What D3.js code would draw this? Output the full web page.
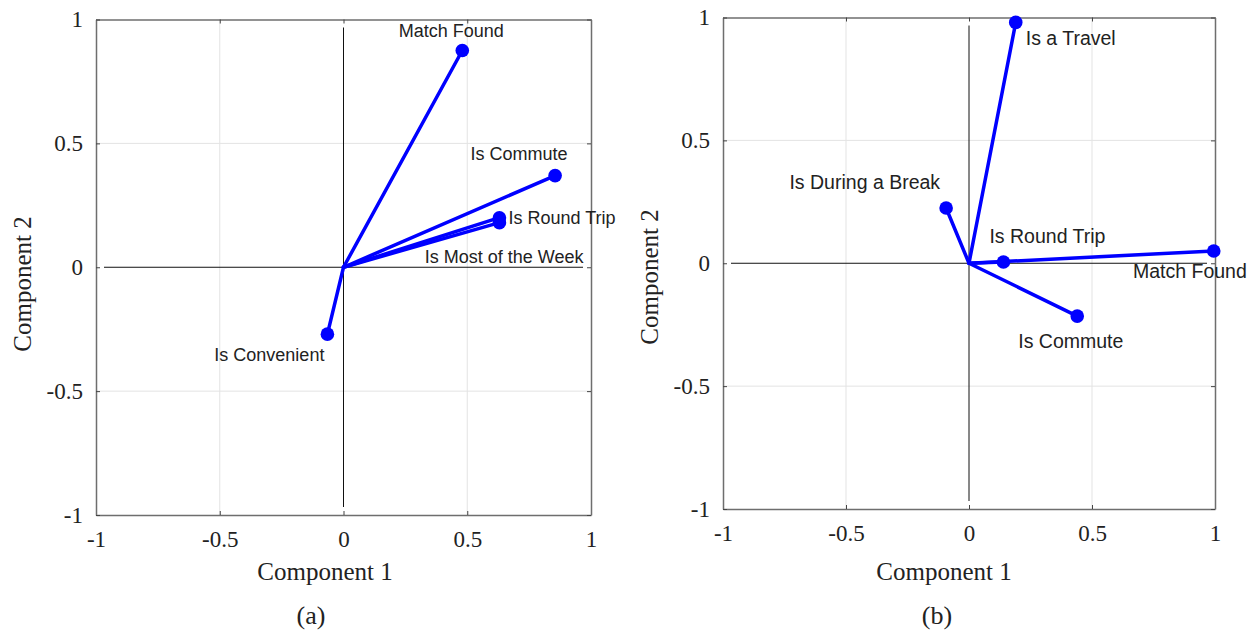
<!DOCTYPE html>
<html>
<head>
<meta charset="utf-8">
<script src="https://cdnjs.cloudflare.com/ajax/libs/d3/7.8.5/d3.min.js"></script>
<style>
	body { margin: 0; background: #fff; }
	.tick text { font-family: "Liberation Serif", "Times New Roman", serif; }
</style>
</head>
<body>
<div id="canvas"></div>
<script>
// panel (a)
var namesA = ["Match Found", "Is Commute", "Is Round Trip", "Is Most of the Week", "Is Convenient"];
var comp1A = [0.48, 0.855, 0.63, 0.63, -0.065];
var comp2A = [0.875, 0.37, 0.20, 0.18, -0.27];

// panel (b)
var namesB = ["Is a Travel", "Is During a Break", "Is Round Trip", "Match Found", "Is Commute"];
var comp1B = [0.19, -0.093, 0.14, 0.995, 0.44];
var comp2B = [0.98, 0.225, 0.005, 0.05, -0.215];

var tickValues = [-1, -0.5, 0, 0.5, 1];
var tickLabels = ["-1", "-0.5", "0", "0.5", "1"];

var W = 1249, H = 633;

var svg = d3.select("#canvas")
	.append("svg")
	.attr("width", W)
	.attr("height", H);

// label offsets relative to each point (pixels), [dx, dy, anchor]
var labelPosA = [[-11, -20, "middle"], [-36, -22, "middle"], [9, 0, "start"], [84, 34, "end"], [-3, 21, "end"]];
var labelPosB = [[10, 16, "start"], [-6, -26, "end"], [-14, -26, "start"], [33, 20, "end"], [-59, 25, "start"]];

drawPanel({left: 96, right: 591, top: 19.5, bottom: 515, yTitleY: 284, xTitleX: 325, capX: 311, cap: "(a)", lblSize: 18},
	namesA, comp1A, comp2A, labelPosA);
drawPanel({left: 723, right: 1215, top: 17.5, bottom: 509, yTitleY: 277, xTitleX: 944, capX: 937, cap: "(b)", lblSize: 19.5},
	namesB, comp1B, comp2B, labelPosB);

function drawPanel(p, names, xs, ys, labelPos){
	var g = svg.append("g");

	var x = d3.scaleLinear().domain([-1, 1]).range([p.left, p.right]);
	var y = d3.scaleLinear().domain([-1, 1]).range([p.bottom, p.top]);

	// grid
	g.selectAll(".gx")
		.data([-0.5, 0.5])
		.enter()
		.append("line")
		.attr("x1", function(d){ return x(d); })
		.attr("x2", function(d){ return x(d); })
		.attr("y1", p.top)
		.attr("y2", p.bottom)
		.attr("stroke", "#e3e3e3")
		.attr("stroke-width", 1);
	g.selectAll(".gy")
		.data([-0.5, 0.5])
		.enter()
		.append("line")
		.attr("y1", function(d){ return y(d); })
		.attr("y2", function(d){ return y(d); })
		.attr("x1", p.left)
		.attr("x2", p.right)
		.attr("stroke", "#e3e3e3")
		.attr("stroke-width", 1);

	// zero lines
	g.append("line")
		.attr("x1", x(0)).attr("x2", x(0))
		.attr("y1", p.top + 8).attr("y2", p.bottom - 8)
		.attr("stroke", "#111").attr("stroke-width", 1);
	g.append("line")
		.attr("x1", p.left + 8).attr("x2", p.right - 8)
		.attr("y1", y(0)).attr("y2", y(0))
		.attr("stroke", "#111").attr("stroke-width", 1);

	// axes
	var fmt = function(d){ return tickLabels[tickValues.indexOf(d)]; };
	var axes = [
		[d3.axisBottom(x), "translate(0," + p.bottom + ")"],
		[d3.axisTop(x).tickFormat(""), "translate(0," + p.top + ")"],
		[d3.axisLeft(y), "translate(" + p.left + ",0)"],
		[d3.axisRight(y).tickFormat(""), "translate(" + p.right + ",0)"]
	];
	axes.forEach(function(a, i){
		var ax = a[0].tickValues(tickValues).tickSizeInner(-4).tickSizeOuter(0).tickPadding(i === 0 ? 16 : 13);
		if(i === 0 || i === 2) ax.tickFormat(fmt);
		var ag = g.append("g")
			.attr("transform", a[1])
			.call(ax);
		ag.select(".domain").attr("stroke", "#6e6e6e").attr("stroke-width", 1.5);
		ag.selectAll(".tick line").attr("stroke", "#444");
		ag.selectAll(".tick text")
			.attr("font-size", 23)
			.attr("fill", "#222");
	});

	// vectors
	var idx = d3.range(names.length);
	g.selectAll(".vec")
		.data(idx)
		.enter()
		.append("line")
		.attr("x1", x(0))
		.attr("y1", y(0))
		.attr("x2", function(i){ return x(xs[i]); })
		.attr("y2", function(i){ return y(ys[i]); })
		.attr("stroke", "#0000ff")
		.attr("stroke-width", 3.5)
		.attr("stroke-linecap", "round");
	g.selectAll(".pt")
		.data(idx)
		.enter()
		.append("circle")
		.attr("cx", function(i){ return x(xs[i]); })
		.attr("cy", function(i){ return y(ys[i]); })
		.attr("r", 6.8)
		.attr("fill", "#0000ff");

	g.selectAll(".lbl")
		.data(idx)
		.enter()
		.append("text")
		.attr("x", function(i){ return x(xs[i]) + labelPos[i][0]; })
		.attr("y", function(i){ return y(ys[i]) + labelPos[i][1]; })
		.attr("dy", "0.35em")
		.attr("text-anchor", function(i){ return labelPos[i][2]; })
		.attr("font-family", "'Liberation Sans', Arial, sans-serif")
		.attr("font-size", p.lblSize)
		.attr("fill", "#222")
		.text(function(i){ return names[i]; });

	// titles
	g.append("text")
		.attr("x", p.xTitleX)
		.attr("y", 571)
		.attr("dy", "0.35em")
		.attr("text-anchor", "middle")
		.attr("font-family", "'Liberation Serif', 'Times New Roman', serif")
		.attr("font-size", 25)
		.attr("fill", "#222")
		.text("Component 1");
	g.append("text")
		.attr("transform", "translate(" + (p.left - 74) + "," + p.yTitleY + ") rotate(-90)")
		.attr("dy", "0.35em")
		.attr("text-anchor", "middle")
		.attr("font-family", "'Liberation Serif', 'Times New Roman', serif")
		.attr("font-size", 25)
		.attr("fill", "#222")
		.text("Component 2");
	g.append("text")
		.attr("x", p.capX)
		.attr("y", 615)
		.attr("dy", "0.35em")
		.attr("text-anchor", "middle")
		.attr("font-family", "'Liberation Serif', 'Times New Roman', serif")
		.attr("font-size", 26)
		.attr("fill", "#222")
		.text(p.cap);
}
</script>
</body>
</html>
